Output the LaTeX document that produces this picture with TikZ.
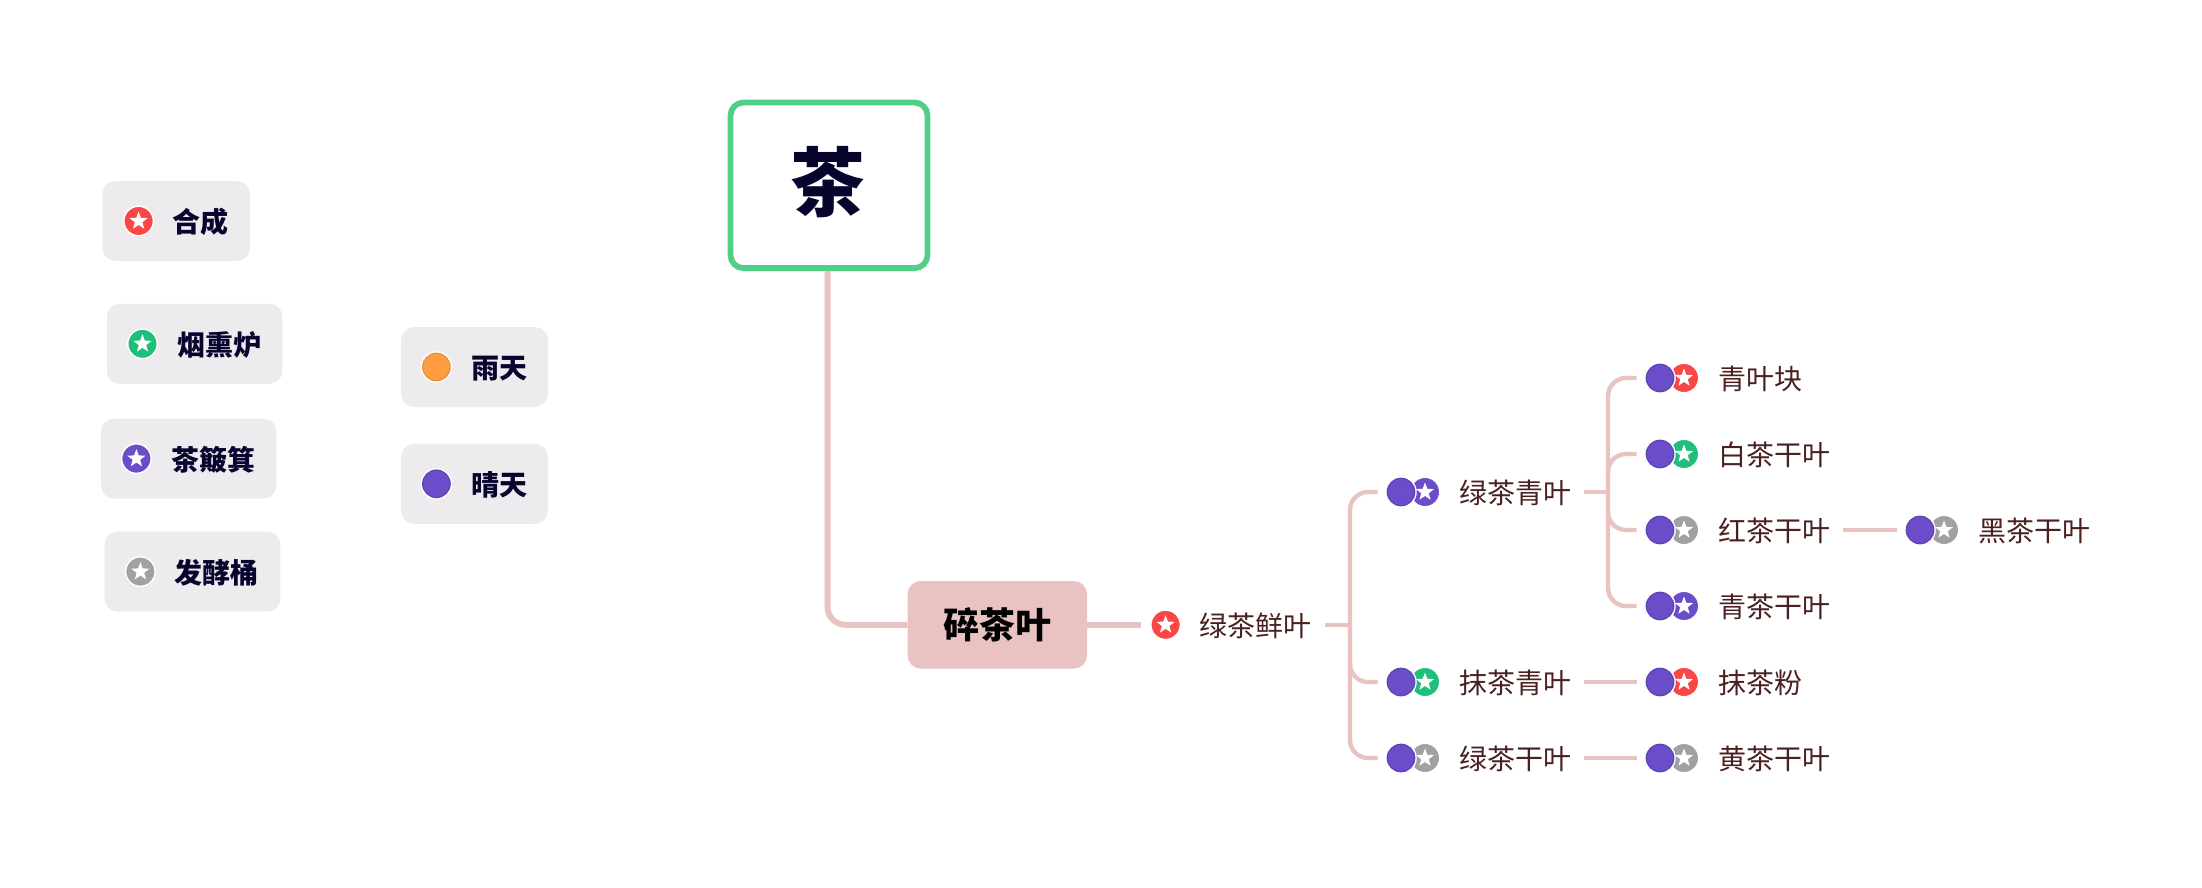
\documentclass[tikz,border=0pt]{standalone}
\usepackage{fontspec}
\setmainfont{Noto Sans CJK SC}
\usetikzlibrary{shapes.geometric}
\definecolor{cred}{HTML}{FB4646}
\definecolor{cgreen}{HTML}{1FBF7B}
\definecolor{cpurple}{HTML}{6B4CC9}
\definecolor{cpurpled}{HTML}{5F43B4}
\definecolor{cgray}{HTML}{A1A1A3}
\definecolor{corange}{HTML}{FF9D42}
\definecolor{coranged}{HTML}{E4903F}
\definecolor{cbox}{HTML}{EDEBEE}
\definecolor{cpink}{HTML}{E8C3C1}
\definecolor{croot}{HTML}{52CF87}
\definecolor{cnavy}{HTML}{07052E}
\definecolor{cbrown}{HTML}{4A2020}
\tikzset{
  legendbox/.style={rectangle,rounded corners=13pt,fill=cbox,minimum height=80pt,inner sep=0pt},
  legendtext/.style={anchor=west,inner sep=0pt,yshift=-0.8pt,text=cnavy,font=\fontsize{28}{28}\selectfont\bfseries},
  topictext/.style={anchor=west,inner sep=0pt,yshift=-0.8pt,text=cbrown,font=\fontsize{28}{28}\selectfont},
  staricon/.style={circle,fill=#1,draw=white,line width=1.4pt,minimum size=29.5pt,inner sep=0pt},
  dayicon/.style n args={2}{circle,fill=#1,draw=#2,line width=1.2pt,minimum size=27.5pt,inner sep=0pt},
  halo/.style={circle,fill=white,minimum size=31.5pt,inner sep=0pt},
  whitestar/.style={star,star points=5,star point ratio=2.4,fill=white,minimum size=19pt,inner sep=0pt},
  mainlink/.style={draw=cpink,line width=6pt},
  sublink/.style={draw=cpink,line width=4.4pt},
}
\newcommand{\stariconat}[4]{% name x y colour
  \node[staricon=#4] (#1) at (#2,#3) {};
  \node[whitestar] (#1star) at (#2,#3) {};
}
\newcommand{\dayiconat}[5]{% name x y fill border
  \node[halo] (#1halo) at (#2,#3) {};
  \node[dayicon={#4}{#5}] (#1) at (#2,#3) {};
}
\newcommand{\topicrow}[5]{% name iconx y colour text
  \stariconat{#1s}{\the\numexpr#2+24\relax}{#3}{#4}
  \dayiconat{#1p}{#2}{#3}{cpurple}{cpurpled}
  \node[topictext] (#1t) at (\the\numexpr#2+58\relax,#3) {#5};
}
\begin{document}
\begin{tikzpicture}[x=1pt,y=-1pt]
\useasboundingbox (0,0) rectangle (2202,888);
% legend
\node[legendbox,minimum width=147.5pt] (lg1) at (176.2,221) {};
\stariconat{lg1i}{138.6}{221}{cred}
\node[legendtext] (lg1t) at (172.5,221.5) {合成};
\node[legendbox,minimum width=175.7pt] (lg2) at (194.6,343.8) {};
\stariconat{lg2i}{142.5}{343.8}{cgreen}
\node[legendtext] (lg2t) at (176.8,344.3) {烟熏炉};
\node[legendbox,minimum width=175.4pt] (lg3) at (188.7,458.6) {};
\stariconat{lg3i}{136.4}{458.6}{cpurple}
\node[legendtext] (lg3t) at (171,459.1) {茶簸箕};
\node[legendbox,minimum width=175.8pt] (lg4) at (192.5,571.6) {};
\stariconat{lg4i}{140.4}{571.6}{cgray}
\node[legendtext] (lg4t) at (174.5,572.1) {发酵桶};
\node[legendbox,minimum width=147pt] (lg5) at (474.5,367) {};
\dayiconat{lg5i}{436.4}{367}{corange}{coranged}
\node[legendtext] (lg5t) at (471,367.5) {雨天};
\node[legendbox,minimum width=147pt] (lg6) at (474.5,483.8) {};
\dayiconat{lg6i}{436.4}{483.8}{cpurple}{cpurpled}
\node[legendtext] (lg6t) at (471,484.3) {晴天};
% root and main topic
\node[rectangle,rounded corners=13pt,draw=croot,line width=5.8pt,fill=white,minimum width=197pt,minimum height=165.6pt,inner sep=0pt] (root) at (829,185.3) {};
\node[inner sep=0pt,text=cnavy,font=\fontsize{75}{75}\selectfont\bfseries] (roott) at (828.2,182.6) {茶};
\node[rectangle,rounded corners=13pt,fill=cpink,minimum width=179.4pt,minimum height=87.5pt,inner sep=0pt,text=black,font=\fontsize{36}{36}\selectfont\bfseries] (main) at (997.3,624.8) {碎茶叶};
% level 1
\stariconat{freshi}{1165.6}{624.8}{cred}
\node[topictext] (fresht) at (1199.2,624.8) {绿茶鲜叶};
% level 2
\topicrow{a}{1401}{492}{cpurple}{绿茶青叶}
\topicrow{b}{1401}{682}{cgreen}{抹茶青叶}
\topicrow{c}{1401}{758}{cgray}{绿茶干叶}
% level 3
\topicrow{d}{1660}{378}{cred}{青叶块}
\topicrow{e}{1660}{454}{cgreen}{白茶干叶}
\topicrow{f}{1660}{530}{cgray}{红茶干叶}
\topicrow{g}{1660}{606}{cpurple}{青茶干叶}
\topicrow{h}{1660}{682}{cred}{抹茶粉}
\topicrow{i}{1660}{758}{cgray}{黄茶干叶}
% level 4
\topicrow{j}{1920}{530}{cgray}{黑茶干叶}
% connectors
\coordinate (busA) at (1350,624.8);
\coordinate (busB) at (1608,492);
\draw[mainlink,rounded corners=18pt] ([xshift=-1.5pt]root.south) |- (main.west);
\draw[mainlink,shorten >=9pt] (main.east) -- (freshi.west);
\draw[sublink,shorten <=13pt] ([yshift=0.8pt]fresht.east) -- (busA);
\foreach \n in {ap,bp,cp}
  \draw[sublink,rounded corners=18pt,shorten >=9pt] (busA) |- (\n.west);
\draw[sublink,shorten <=13pt] ([yshift=0.8pt]at.east) -- (busB);
\foreach \n in {dp,ep,fp,gp}
  \draw[sublink,rounded corners=18pt,shorten >=9pt] (busB) |- (\n.west);
\draw[sublink,shorten <=13pt,shorten >=9pt] ([yshift=0.8pt]bt.east) -- (hp.west);
\draw[sublink,shorten <=13pt,shorten >=9pt] ([yshift=0.8pt]ct.east) -- (ip.west);
\draw[sublink,shorten <=13pt,shorten >=9pt] ([yshift=0.8pt]ft.east) -- (jp.west);
\end{tikzpicture}
\end{document}
